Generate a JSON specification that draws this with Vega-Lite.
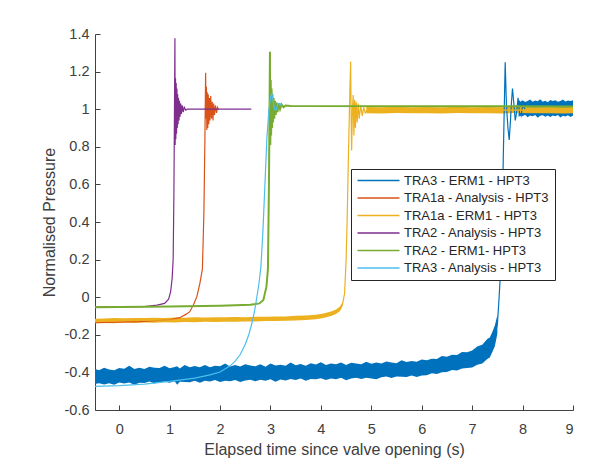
{
  "$schema": "https://vega.github.io/schema/vega-lite/v6.json",
  "width": 478,
  "height": 376,
  "autosize": {"type": "none"},
  "padding": {"left": 95, "top": 34, "right": 27, "bottom": 66},
  "background": "white",
  "datasets": {
    "bands": [
      {"s": "TRA3 - ERM1 - HPT3", "seg": "a", "t": -0.48, "lo": -0.462, "hi": -0.382},
      {"s": "TRA3 - ERM1 - HPT3", "seg": "a", "t": -0.4, "lo": -0.458, "hi": -0.388},
      {"s": "TRA3 - ERM1 - HPT3", "seg": "a", "t": -0.3, "lo": -0.464, "hi": -0.375},
      {"s": "TRA3 - ERM1 - HPT3", "seg": "a", "t": -0.2, "lo": -0.458, "hi": -0.384},
      {"s": "TRA3 - ERM1 - HPT3", "seg": "a", "t": -0.1, "lo": -0.466, "hi": -0.388},
      {"s": "TRA3 - ERM1 - HPT3", "seg": "a", "t": 0.0, "lo": -0.454, "hi": -0.376},
      {"s": "TRA3 - ERM1 - HPT3", "seg": "a", "t": 0.1, "lo": -0.459, "hi": -0.38},
      {"s": "TRA3 - ERM1 - HPT3", "seg": "a", "t": 0.2, "lo": -0.454, "hi": -0.364},
      {"s": "TRA3 - ERM1 - HPT3", "seg": "a", "t": 0.3, "lo": -0.466, "hi": -0.382},
      {"s": "TRA3 - ERM1 - HPT3", "seg": "a", "t": 0.4, "lo": -0.455, "hi": -0.375},
      {"s": "TRA3 - ERM1 - HPT3", "seg": "a", "t": 0.5, "lo": -0.457, "hi": -0.382},
      {"s": "TRA3 - ERM1 - HPT3", "seg": "a", "t": 0.6, "lo": -0.449, "hi": -0.37},
      {"s": "TRA3 - ERM1 - HPT3", "seg": "a", "t": 0.7, "lo": -0.459, "hi": -0.375},
      {"s": "TRA3 - ERM1 - HPT3", "seg": "a", "t": 0.8, "lo": -0.453, "hi": -0.377},
      {"s": "TRA3 - ERM1 - HPT3", "seg": "a", "t": 0.9, "lo": -0.45, "hi": -0.364},
      {"s": "TRA3 - ERM1 - HPT3", "seg": "a", "t": 1.0, "lo": -0.455, "hi": -0.378},
      {"s": "TRA3 - ERM1 - HPT3", "seg": "a", "t": 1.1, "lo": -0.447, "hi": -0.371},
      {"s": "TRA3 - ERM1 - HPT3", "seg": "a", "t": 1.15, "lo": -0.466, "hi": -0.367},
      {"s": "TRA3 - ERM1 - HPT3", "seg": "a", "t": 1.2, "lo": -0.45, "hi": -0.379},
      {"s": "TRA3 - ERM1 - HPT3", "seg": "a", "t": 1.3, "lo": -0.451, "hi": -0.36},
      {"s": "TRA3 - ERM1 - HPT3", "seg": "a", "t": 1.4, "lo": -0.453, "hi": -0.372},
      {"s": "TRA3 - ERM1 - HPT3", "seg": "a", "t": 1.5, "lo": -0.444, "hi": -0.366},
      {"s": "TRA3 - ERM1 - HPT3", "seg": "a", "t": 1.6, "lo": -0.455, "hi": -0.373},
      {"s": "TRA3 - ERM1 - HPT3", "seg": "a", "t": 1.7, "lo": -0.445, "hi": -0.361},
      {"s": "TRA3 - ERM1 - HPT3", "seg": "a", "t": 1.8, "lo": -0.448, "hi": -0.373},
      {"s": "TRA3 - ERM1 - HPT3", "seg": "a", "t": 1.9, "lo": -0.441, "hi": -0.365},
      {"s": "TRA3 - ERM1 - HPT3", "seg": "a", "t": 2.0, "lo": -0.451, "hi": -0.367},
      {"s": "TRA3 - ERM1 - HPT3", "seg": "a", "t": 2.1, "lo": -0.444, "hi": -0.353},
      {"s": "TRA3 - ERM1 - HPT3", "seg": "a", "t": 2.2, "lo": -0.447, "hi": -0.368},
      {"s": "TRA3 - ERM1 - HPT3", "seg": "a", "t": 2.3, "lo": -0.44, "hi": -0.361},
      {"s": "TRA3 - ERM1 - HPT3", "seg": "a", "t": 2.4, "lo": -0.451, "hi": -0.369},
      {"s": "TRA3 - ERM1 - HPT3", "seg": "a", "t": 2.5, "lo": -0.443, "hi": -0.356},
      {"s": "TRA3 - ERM1 - HPT3", "seg": "a", "t": 2.6, "lo": -0.439, "hi": -0.363},
      {"s": "TRA3 - ERM1 - HPT3", "seg": "a", "t": 2.7, "lo": -0.447, "hi": -0.367},
      {"s": "TRA3 - ERM1 - HPT3", "seg": "a", "t": 2.8, "lo": -0.439, "hi": -0.357},
      {"s": "TRA3 - ERM1 - HPT3", "seg": "a", "t": 2.9, "lo": -0.444, "hi": -0.37},
      {"s": "TRA3 - ERM1 - HPT3", "seg": "a", "t": 3.0, "lo": -0.436, "hi": -0.352},
      {"s": "TRA3 - ERM1 - HPT3", "seg": "a", "t": 3.1, "lo": -0.45, "hi": -0.363},
      {"s": "TRA3 - ERM1 - HPT3", "seg": "a", "t": 3.2, "lo": -0.438, "hi": -0.359},
      {"s": "TRA3 - ERM1 - HPT3", "seg": "a", "t": 3.3, "lo": -0.443, "hi": -0.365},
      {"s": "TRA3 - ERM1 - HPT3", "seg": "a", "t": 3.4, "lo": -0.435, "hi": -0.347},
      {"s": "TRA3 - ERM1 - HPT3", "seg": "a", "t": 3.5, "lo": -0.44, "hi": -0.362},
      {"s": "TRA3 - ERM1 - HPT3", "seg": "a", "t": 3.6, "lo": -0.432, "hi": -0.355},
      {"s": "TRA3 - ERM1 - HPT3", "seg": "a", "t": 3.7, "lo": -0.444, "hi": -0.364},
      {"s": "TRA3 - ERM1 - HPT3", "seg": "a", "t": 3.8, "lo": -0.435, "hi": -0.351},
      {"s": "TRA3 - ERM1 - HPT3", "seg": "a", "t": 3.9, "lo": -0.437, "hi": -0.358},
      {"s": "TRA3 - ERM1 - HPT3", "seg": "a", "t": 4.0, "lo": -0.431, "hi": -0.346},
      {"s": "TRA3 - ERM1 - HPT3", "seg": "a", "t": 4.1, "lo": -0.441, "hi": -0.36},
      {"s": "TRA3 - ERM1 - HPT3", "seg": "a", "t": 4.2, "lo": -0.432, "hi": -0.353},
      {"s": "TRA3 - ERM1 - HPT3", "seg": "a", "t": 4.3, "lo": -0.437, "hi": -0.357},
      {"s": "TRA3 - ERM1 - HPT3", "seg": "a", "t": 4.4, "lo": -0.428, "hi": -0.347},
      {"s": "TRA3 - ERM1 - HPT3", "seg": "a", "t": 4.5, "lo": -0.442, "hi": -0.361},
      {"s": "TRA3 - ERM1 - HPT3", "seg": "a", "t": 4.6, "lo": -0.432, "hi": -0.349},
      {"s": "TRA3 - ERM1 - HPT3", "seg": "a", "t": 4.7, "lo": -0.429, "hi": -0.353},
      {"s": "TRA3 - ERM1 - HPT3", "seg": "a", "t": 4.8, "lo": -0.435, "hi": -0.357},
      {"s": "TRA3 - ERM1 - HPT3", "seg": "a", "t": 4.9, "lo": -0.429, "hi": -0.343},
      {"s": "TRA3 - ERM1 - HPT3", "seg": "a", "t": 5.0, "lo": -0.432, "hi": -0.354},
      {"s": "TRA3 - ERM1 - HPT3", "seg": "a", "t": 5.1, "lo": -0.436, "hi": -0.347},
      {"s": "TRA3 - ERM1 - HPT3", "seg": "a", "t": 5.2, "lo": -0.426, "hi": -0.352},
      {"s": "TRA3 - ERM1 - HPT3", "seg": "a", "t": 5.3, "lo": -0.422, "hi": -0.342},
      {"s": "TRA3 - ERM1 - HPT3", "seg": "a", "t": 5.4, "lo": -0.43, "hi": -0.347},
      {"s": "TRA3 - ERM1 - HPT3", "seg": "a", "t": 5.5, "lo": -0.422, "hi": -0.351},
      {"s": "TRA3 - ERM1 - HPT3", "seg": "a", "t": 5.6, "lo": -0.423, "hi": -0.335},
      {"s": "TRA3 - ERM1 - HPT3", "seg": "a", "t": 5.7, "lo": -0.425, "hi": -0.345},
      {"s": "TRA3 - ERM1 - HPT3", "seg": "a", "t": 5.8, "lo": -0.416, "hi": -0.34},
      {"s": "TRA3 - ERM1 - HPT3", "seg": "a", "t": 5.9, "lo": -0.424, "hi": -0.344},
      {"s": "TRA3 - ERM1 - HPT3", "seg": "a", "t": 6.0, "lo": -0.416, "hi": -0.332},
      {"s": "TRA3 - ERM1 - HPT3", "seg": "a", "t": 6.1, "lo": -0.415, "hi": -0.336},
      {"s": "TRA3 - ERM1 - HPT3", "seg": "a", "t": 6.2, "lo": -0.405, "hi": -0.327},
      {"s": "TRA3 - ERM1 - HPT3", "seg": "a", "t": 6.3, "lo": -0.409, "hi": -0.329},
      {"s": "TRA3 - ERM1 - HPT3", "seg": "a", "t": 6.4, "lo": -0.399, "hi": -0.313},
      {"s": "TRA3 - ERM1 - HPT3", "seg": "a", "t": 6.5, "lo": -0.398, "hi": -0.317},
      {"s": "TRA3 - ERM1 - HPT3", "seg": "a", "t": 6.6, "lo": -0.387, "hi": -0.306},
      {"s": "TRA3 - ERM1 - HPT3", "seg": "a", "t": 6.7, "lo": -0.39, "hi": -0.308},
      {"s": "TRA3 - ERM1 - HPT3", "seg": "a", "t": 6.8, "lo": -0.379, "hi": -0.291},
      {"s": "TRA3 - ERM1 - HPT3", "seg": "a", "t": 6.9, "lo": -0.377, "hi": -0.293},
      {"s": "TRA3 - ERM1 - HPT3", "seg": "a", "t": 7.0, "lo": -0.374, "hi": -0.283},
      {"s": "TRA3 - ERM1 - HPT3", "seg": "a", "t": 7.1, "lo": -0.359, "hi": -0.262},
      {"s": "TRA3 - ERM1 - HPT3", "seg": "a", "t": 7.2, "lo": -0.353, "hi": -0.253},
      {"s": "TRA3 - ERM1 - HPT3", "seg": "a", "t": 7.3, "lo": -0.329, "hi": -0.222},
      {"s": "TRA3 - ERM1 - HPT3", "seg": "a", "t": 7.35, "lo": -0.321, "hi": -0.215},
      {"s": "TRA3 - ERM1 - HPT3", "seg": "a", "t": 7.4, "lo": -0.292, "hi": -0.185},
      {"s": "TRA3 - ERM1 - HPT3", "seg": "a", "t": 7.45, "lo": -0.261, "hi": -0.151},
      {"s": "TRA3 - ERM1 - HPT3", "seg": "a", "t": 7.5, "lo": -0.195, "hi": -0.095},
      {"s": "TRA3 - ERM1 - HPT3", "seg": "b", "t": 7.92, "lo": 0.958, "hi": 1.052},
      {"s": "TRA3 - ERM1 - HPT3", "seg": "b", "t": 7.96, "lo": 0.968, "hi": 1.04},
      {"s": "TRA3 - ERM1 - HPT3", "seg": "b", "t": 8.0, "lo": 0.962, "hi": 1.047},
      {"s": "TRA3 - ERM1 - HPT3", "seg": "b", "t": 8.05, "lo": 0.97, "hi": 1.038},
      {"s": "TRA3 - ERM1 - HPT3", "seg": "b", "t": 8.1, "lo": 0.957, "hi": 1.044},
      {"s": "TRA3 - ERM1 - HPT3", "seg": "b", "t": 8.15, "lo": 0.966, "hi": 1.051},
      {"s": "TRA3 - ERM1 - HPT3", "seg": "b", "t": 8.2, "lo": 0.963, "hi": 1.039},
      {"s": "TRA3 - ERM1 - HPT3", "seg": "b", "t": 8.25, "lo": 0.969, "hi": 1.046},
      {"s": "TRA3 - ERM1 - HPT3", "seg": "b", "t": 8.3, "lo": 0.955, "hi": 1.042},
      {"s": "TRA3 - ERM1 - HPT3", "seg": "b", "t": 8.35, "lo": 0.965, "hi": 1.053},
      {"s": "TRA3 - ERM1 - HPT3", "seg": "b", "t": 8.4, "lo": 0.968, "hi": 1.04},
      {"s": "TRA3 - ERM1 - HPT3", "seg": "b", "t": 8.45, "lo": 0.96, "hi": 1.045},
      {"s": "TRA3 - ERM1 - HPT3", "seg": "b", "t": 8.5, "lo": 0.966, "hi": 1.037},
      {"s": "TRA3 - ERM1 - HPT3", "seg": "b", "t": 8.55, "lo": 0.958, "hi": 1.049},
      {"s": "TRA3 - ERM1 - HPT3", "seg": "b", "t": 8.6, "lo": 0.967, "hi": 1.043},
      {"s": "TRA3 - ERM1 - HPT3", "seg": "b", "t": 8.65, "lo": 0.962, "hi": 1.047},
      {"s": "TRA3 - ERM1 - HPT3", "seg": "b", "t": 8.7, "lo": 0.969, "hi": 1.039},
      {"s": "TRA3 - ERM1 - HPT3", "seg": "b", "t": 8.75, "lo": 0.956, "hi": 1.044},
      {"s": "TRA3 - ERM1 - HPT3", "seg": "b", "t": 8.8, "lo": 0.965, "hi": 1.051},
      {"s": "TRA3 - ERM1 - HPT3", "seg": "b", "t": 8.85, "lo": 0.961, "hi": 1.041},
      {"s": "TRA3 - ERM1 - HPT3", "seg": "b", "t": 8.9, "lo": 0.968, "hi": 1.046},
      {"s": "TRA3 - ERM1 - HPT3", "seg": "b", "t": 8.95, "lo": 0.959, "hi": 1.043},
      {"s": "TRA3 - ERM1 - HPT3", "seg": "b", "t": 9.0, "lo": 0.966, "hi": 1.048},
      {"s": "TRA1a - ERM1 - HPT3", "seg": "c", "t": -0.48, "lo": -0.139, "hi": -0.114},
      {"s": "TRA1a - ERM1 - HPT3", "seg": "c", "t": -0.3, "lo": -0.137, "hi": -0.113},
      {"s": "TRA1a - ERM1 - HPT3", "seg": "c", "t": -0.1, "lo": -0.138, "hi": -0.111},
      {"s": "TRA1a - ERM1 - HPT3", "seg": "c", "t": 0.1, "lo": -0.135, "hi": -0.112},
      {"s": "TRA1a - ERM1 - HPT3", "seg": "c", "t": 0.3, "lo": -0.137, "hi": -0.11},
      {"s": "TRA1a - ERM1 - HPT3", "seg": "c", "t": 0.5, "lo": -0.134, "hi": -0.111},
      {"s": "TRA1a - ERM1 - HPT3", "seg": "c", "t": 0.7, "lo": -0.136, "hi": -0.109},
      {"s": "TRA1a - ERM1 - HPT3", "seg": "c", "t": 0.9, "lo": -0.133, "hi": -0.11},
      {"s": "TRA1a - ERM1 - HPT3", "seg": "c", "t": 1.1, "lo": -0.134, "hi": -0.108},
      {"s": "TRA1a - ERM1 - HPT3", "seg": "c", "t": 1.3, "lo": -0.132, "hi": -0.109},
      {"s": "TRA1a - ERM1 - HPT3", "seg": "c", "t": 1.5, "lo": -0.133, "hi": -0.107},
      {"s": "TRA1a - ERM1 - HPT3", "seg": "c", "t": 1.7, "lo": -0.131, "hi": -0.108},
      {"s": "TRA1a - ERM1 - HPT3", "seg": "c", "t": 1.9, "lo": -0.132, "hi": -0.106},
      {"s": "TRA1a - ERM1 - HPT3", "seg": "c", "t": 2.1, "lo": -0.13, "hi": -0.107},
      {"s": "TRA1a - ERM1 - HPT3", "seg": "c", "t": 2.3, "lo": -0.131, "hi": -0.105},
      {"s": "TRA1a - ERM1 - HPT3", "seg": "c", "t": 2.5, "lo": -0.129, "hi": -0.106},
      {"s": "TRA1a - ERM1 - HPT3", "seg": "c", "t": 2.7, "lo": -0.129, "hi": -0.104},
      {"s": "TRA1a - ERM1 - HPT3", "seg": "c", "t": 2.9, "lo": -0.127, "hi": -0.104},
      {"s": "TRA1a - ERM1 - HPT3", "seg": "c", "t": 3.1, "lo": -0.127, "hi": -0.102},
      {"s": "TRA1a - ERM1 - HPT3", "seg": "c", "t": 3.3, "lo": -0.125, "hi": -0.102},
      {"s": "TRA1a - ERM1 - HPT3", "seg": "c", "t": 3.5, "lo": -0.124, "hi": -0.099},
      {"s": "TRA1a - ERM1 - HPT3", "seg": "c", "t": 3.7, "lo": -0.121, "hi": -0.097},
      {"s": "TRA1a - ERM1 - HPT3", "seg": "c", "t": 3.9, "lo": -0.117, "hi": -0.093},
      {"s": "TRA1a - ERM1 - HPT3", "seg": "c", "t": 4.05, "lo": -0.111, "hi": -0.087},
      {"s": "TRA1a - ERM1 - HPT3", "seg": "c", "t": 4.2, "lo": -0.1, "hi": -0.076},
      {"s": "TRA1a - ERM1 - HPT3", "seg": "c", "t": 4.3, "lo": -0.09, "hi": -0.066},
      {"s": "TRA1a - ERM1 - HPT3", "seg": "c", "t": 4.38, "lo": -0.073, "hi": -0.049},
      {"s": "TRA1a - ERM1 - HPT3", "seg": "c", "t": 4.43, "lo": -0.048, "hi": -0.024},
      {"s": "TRA1a - ERM1 - HPT3", "seg": "d", "t": 4.9, "lo": 0.979, "hi": 1.012},
      {"s": "TRA1a - ERM1 - HPT3", "seg": "d", "t": 5.2, "lo": 0.977, "hi": 1.01},
      {"s": "TRA1a - ERM1 - HPT3", "seg": "d", "t": 5.5, "lo": 0.98, "hi": 1.013},
      {"s": "TRA1a - ERM1 - HPT3", "seg": "d", "t": 5.8, "lo": 0.978, "hi": 1.01},
      {"s": "TRA1a - ERM1 - HPT3", "seg": "d", "t": 6.1, "lo": 0.979, "hi": 1.012},
      {"s": "TRA1a - ERM1 - HPT3", "seg": "d", "t": 6.4, "lo": 0.977, "hi": 1.011},
      {"s": "TRA1a - ERM1 - HPT3", "seg": "d", "t": 6.7, "lo": 0.98, "hi": 1.013},
      {"s": "TRA1a - ERM1 - HPT3", "seg": "d", "t": 7.0, "lo": 0.978, "hi": 1.01},
      {"s": "TRA1a - ERM1 - HPT3", "seg": "d", "t": 7.3, "lo": 0.979, "hi": 1.012},
      {"s": "TRA1a - ERM1 - HPT3", "seg": "d", "t": 7.6, "lo": 0.977, "hi": 1.011},
      {"s": "TRA1a - ERM1 - HPT3", "seg": "d", "t": 7.9, "lo": 0.98, "hi": 1.013},
      {"s": "TRA1a - ERM1 - HPT3", "seg": "d", "t": 8.2, "lo": 0.978, "hi": 1.01},
      {"s": "TRA1a - ERM1 - HPT3", "seg": "d", "t": 8.5, "lo": 0.979, "hi": 1.012},
      {"s": "TRA1a - ERM1 - HPT3", "seg": "d", "t": 8.8, "lo": 0.977, "hi": 1.011},
      {"s": "TRA1a - ERM1 - HPT3", "seg": "d", "t": 9.0, "lo": 0.979, "hi": 1.012}
    ],
    "lines": [
      {"s": "TRA3 - ERM1 - HPT3", "t": -0.48, "p": -0.422},
      {"s": "TRA3 - ERM1 - HPT3", "t": 2.0, "p": -0.408},
      {"s": "TRA3 - ERM1 - HPT3", "t": 4.0, "p": -0.394},
      {"s": "TRA3 - ERM1 - HPT3", "t": 5.0, "p": -0.39},
      {"s": "TRA3 - ERM1 - HPT3", "t": 6.0, "p": -0.377},
      {"s": "TRA3 - ERM1 - HPT3", "t": 6.5, "p": -0.355},
      {"s": "TRA3 - ERM1 - HPT3", "t": 7.0, "p": -0.327},
      {"s": "TRA3 - ERM1 - HPT3", "t": 7.2, "p": -0.3},
      {"s": "TRA3 - ERM1 - HPT3", "t": 7.35, "p": -0.265},
      {"s": "TRA3 - ERM1 - HPT3", "t": 7.45, "p": -0.206},
      {"s": "TRA3 - ERM1 - HPT3", "t": 7.5, "p": -0.145},
      {"s": "TRA3 - ERM1 - HPT3", "t": 7.53, "p": -0.02},
      {"s": "TRA3 - ERM1 - HPT3", "t": 7.56, "p": 0.12},
      {"s": "TRA3 - ERM1 - HPT3", "t": 7.59, "p": 0.35},
      {"s": "TRA3 - ERM1 - HPT3", "t": 7.62, "p": 0.78},
      {"s": "TRA3 - ERM1 - HPT3", "t": 7.655, "p": 1.25},
      {"s": "TRA3 - ERM1 - HPT3", "t": 7.68, "p": 1.02},
      {"s": "TRA3 - ERM1 - HPT3", "t": 7.71, "p": 0.9},
      {"s": "TRA3 - ERM1 - HPT3", "t": 7.735, "p": 0.836},
      {"s": "TRA3 - ERM1 - HPT3", "t": 7.76, "p": 0.94},
      {"s": "TRA3 - ERM1 - HPT3", "t": 7.78, "p": 1.04},
      {"s": "TRA3 - ERM1 - HPT3", "t": 7.8, "p": 1.11},
      {"s": "TRA3 - ERM1 - HPT3", "t": 7.83, "p": 1.02},
      {"s": "TRA3 - ERM1 - HPT3", "t": 7.855, "p": 0.94},
      {"s": "TRA3 - ERM1 - HPT3", "t": 7.88, "p": 0.98},
      {"s": "TRA3 - ERM1 - HPT3", "t": 7.91, "p": 1.06},
      {"s": "TRA3 - ERM1 - HPT3", "t": 7.94, "p": 0.98},
      {"s": "TRA3 - ERM1 - HPT3", "t": 7.97, "p": 0.965},
      {"s": "TRA3 - ERM1 - HPT3", "t": 8.0, "p": 1.02},
      {"s": "TRA3 - ERM1 - HPT3", "t": 8.05, "p": 1.0},

      {"s": "TRA1a - Analysis - HPT3", "t": -0.48, "p": -0.136},
      {"s": "TRA1a - Analysis - HPT3", "t": 0.4, "p": -0.13},
      {"s": "TRA1a - Analysis - HPT3", "t": 1.0, "p": -0.12},
      {"s": "TRA1a - Analysis - HPT3", "t": 1.2, "p": -0.109},
      {"s": "TRA1a - Analysis - HPT3", "t": 1.33, "p": -0.09},
      {"s": "TRA1a - Analysis - HPT3", "t": 1.4, "p": -0.077},
      {"s": "TRA1a - Analysis - HPT3", "t": 1.47, "p": -0.042},
      {"s": "TRA1a - Analysis - HPT3", "t": 1.54, "p": 0.003},
      {"s": "TRA1a - Analysis - HPT3", "t": 1.6, "p": 0.074},
      {"s": "TRA1a - Analysis - HPT3", "t": 1.65, "p": 0.15},
      {"s": "TRA1a - Analysis - HPT3", "t": 1.68, "p": 0.45},
      {"s": "TRA1a - Analysis - HPT3", "t": 1.7, "p": 0.85},
      {"s": "TRA1a - Analysis - HPT3", "t": 1.714, "p": 1.194},
      {"s": "TRA1a - Analysis - HPT3", "t": 1.722, "p": 0.95},
      {"s": "TRA1a - Analysis - HPT3", "t": 1.73, "p": 1.12},
      {"s": "TRA1a - Analysis - HPT3", "t": 1.738, "p": 0.89},
      {"s": "TRA1a - Analysis - HPT3", "t": 1.746, "p": 1.09},
      {"s": "TRA1a - Analysis - HPT3", "t": 1.756, "p": 0.9},
      {"s": "TRA1a - Analysis - HPT3", "t": 1.766, "p": 1.08},
      {"s": "TRA1a - Analysis - HPT3", "t": 1.777, "p": 0.92},
      {"s": "TRA1a - Analysis - HPT3", "t": 1.79, "p": 1.06},
      {"s": "TRA1a - Analysis - HPT3", "t": 1.8, "p": 0.94},
      {"s": "TRA1a - Analysis - HPT3", "t": 1.815, "p": 1.07},
      {"s": "TRA1a - Analysis - HPT3", "t": 1.83, "p": 0.95},
      {"s": "TRA1a - Analysis - HPT3", "t": 1.845, "p": 1.04},
      {"s": "TRA1a - Analysis - HPT3", "t": 1.86, "p": 0.94},
      {"s": "TRA1a - Analysis - HPT3", "t": 1.875, "p": 1.03},
      {"s": "TRA1a - Analysis - HPT3", "t": 1.89, "p": 0.97},
      {"s": "TRA1a - Analysis - HPT3", "t": 1.91, "p": 1.02},
      {"s": "TRA1a - Analysis - HPT3", "t": 1.93, "p": 0.98},
      {"s": "TRA1a - Analysis - HPT3", "t": 1.95, "p": 1.01},
      {"s": "TRA1a - Analysis - HPT3", "t": 1.97, "p": 1.0},

      {"s": "TRA1a - ERM1 - HPT3", "t": -0.48, "p": -0.126},
      {"s": "TRA1a - ERM1 - HPT3", "t": 1.5, "p": -0.12},
      {"s": "TRA1a - ERM1 - HPT3", "t": 3.0, "p": -0.115},
      {"s": "TRA1a - ERM1 - HPT3", "t": 3.6, "p": -0.11},
      {"s": "TRA1a - ERM1 - HPT3", "t": 4.0, "p": -0.1},
      {"s": "TRA1a - ERM1 - HPT3", "t": 4.25, "p": -0.085},
      {"s": "TRA1a - ERM1 - HPT3", "t": 4.38, "p": -0.061},
      {"s": "TRA1a - ERM1 - HPT3", "t": 4.43, "p": -0.036},
      {"s": "TRA1a - ERM1 - HPT3", "t": 4.47, "p": 0.02},
      {"s": "TRA1a - ERM1 - HPT3", "t": 4.5, "p": 0.2},
      {"s": "TRA1a - ERM1 - HPT3", "t": 4.52, "p": 0.4},
      {"s": "TRA1a - ERM1 - HPT3", "t": 4.55, "p": 0.8},
      {"s": "TRA1a - ERM1 - HPT3", "t": 4.575, "p": 1.1},
      {"s": "TRA1a - ERM1 - HPT3", "t": 4.59, "p": 1.253},
      {"s": "TRA1a - ERM1 - HPT3", "t": 4.6, "p": 0.95},
      {"s": "TRA1a - ERM1 - HPT3", "t": 4.61, "p": 0.78},
      {"s": "TRA1a - ERM1 - HPT3", "t": 4.625, "p": 1.0},
      {"s": "TRA1a - ERM1 - HPT3", "t": 4.64, "p": 1.076},
      {"s": "TRA1a - ERM1 - HPT3", "t": 4.655, "p": 0.86},
      {"s": "TRA1a - ERM1 - HPT3", "t": 4.67, "p": 1.05},
      {"s": "TRA1a - ERM1 - HPT3", "t": 4.685, "p": 0.9},
      {"s": "TRA1a - ERM1 - HPT3", "t": 4.7, "p": 1.04},
      {"s": "TRA1a - ERM1 - HPT3", "t": 4.72, "p": 0.93},
      {"s": "TRA1a - ERM1 - HPT3", "t": 4.74, "p": 1.03},
      {"s": "TRA1a - ERM1 - HPT3", "t": 4.76, "p": 0.95},
      {"s": "TRA1a - ERM1 - HPT3", "t": 4.79, "p": 1.02},
      {"s": "TRA1a - ERM1 - HPT3", "t": 4.82, "p": 0.965},
      {"s": "TRA1a - ERM1 - HPT3", "t": 4.85, "p": 1.01},
      {"s": "TRA1a - ERM1 - HPT3", "t": 4.88, "p": 0.98},
      {"s": "TRA1a - ERM1 - HPT3", "t": 4.92, "p": 0.995},
      {"s": "TRA1a - ERM1 - HPT3", "t": 9.0, "p": 0.995},

      {"s": "TRA2 - Analysis - HPT3", "t": -0.48, "p": -0.052},
      {"s": "TRA2 - Analysis - HPT3", "t": 0.5, "p": -0.05},
      {"s": "TRA2 - Analysis - HPT3", "t": 0.75, "p": -0.042},
      {"s": "TRA2 - Analysis - HPT3", "t": 0.9, "p": -0.033},
      {"s": "TRA2 - Analysis - HPT3", "t": 0.98, "p": -0.01},
      {"s": "TRA2 - Analysis - HPT3", "t": 1.02, "p": 0.03},
      {"s": "TRA2 - Analysis - HPT3", "t": 1.05, "p": 0.1},
      {"s": "TRA2 - Analysis - HPT3", "t": 1.07, "p": 0.2},
      {"s": "TRA2 - Analysis - HPT3", "t": 1.085, "p": 0.55},
      {"s": "TRA2 - Analysis - HPT3", "t": 1.095, "p": 0.95},
      {"s": "TRA2 - Analysis - HPT3", "t": 1.105, "p": 1.377},
      {"s": "TRA2 - Analysis - HPT3", "t": 1.11, "p": 0.81},
      {"s": "TRA2 - Analysis - HPT3", "t": 1.117, "p": 1.165},
      {"s": "TRA2 - Analysis - HPT3", "t": 1.123, "p": 0.84},
      {"s": "TRA2 - Analysis - HPT3", "t": 1.13, "p": 1.14},
      {"s": "TRA2 - Analysis - HPT3", "t": 1.137, "p": 0.87},
      {"s": "TRA2 - Analysis - HPT3", "t": 1.145, "p": 1.11},
      {"s": "TRA2 - Analysis - HPT3", "t": 1.152, "p": 0.9},
      {"s": "TRA2 - Analysis - HPT3", "t": 1.16, "p": 1.08},
      {"s": "TRA2 - Analysis - HPT3", "t": 1.168, "p": 0.92},
      {"s": "TRA2 - Analysis - HPT3", "t": 1.177, "p": 1.06},
      {"s": "TRA2 - Analysis - HPT3", "t": 1.186, "p": 0.94},
      {"s": "TRA2 - Analysis - HPT3", "t": 1.196, "p": 1.045},
      {"s": "TRA2 - Analysis - HPT3", "t": 1.207, "p": 0.96},
      {"s": "TRA2 - Analysis - HPT3", "t": 1.22, "p": 1.03},
      {"s": "TRA2 - Analysis - HPT3", "t": 1.235, "p": 0.975},
      {"s": "TRA2 - Analysis - HPT3", "t": 1.25, "p": 1.02},
      {"s": "TRA2 - Analysis - HPT3", "t": 1.27, "p": 0.985},
      {"s": "TRA2 - Analysis - HPT3", "t": 1.29, "p": 1.01},
      {"s": "TRA2 - Analysis - HPT3", "t": 1.32, "p": 0.995},
      {"s": "TRA2 - Analysis - HPT3", "t": 1.35, "p": 1.0},
      {"s": "TRA2 - Analysis - HPT3", "t": 2.62, "p": 1.0},

      {"s": "TRA2 - ERM1- HPT3", "t": -0.48, "p": -0.053},
      {"s": "TRA2 - ERM1- HPT3", "t": 1.0, "p": -0.05},
      {"s": "TRA2 - ERM1- HPT3", "t": 2.0, "p": -0.045},
      {"s": "TRA2 - ERM1- HPT3", "t": 2.6, "p": -0.04},
      {"s": "TRA2 - ERM1- HPT3", "t": 2.78, "p": -0.033},
      {"s": "TRA2 - ERM1- HPT3", "t": 2.86, "p": -0.015},
      {"s": "TRA2 - ERM1- HPT3", "t": 2.92, "p": 0.056},
      {"s": "TRA2 - ERM1- HPT3", "t": 2.95, "p": 0.15},
      {"s": "TRA2 - ERM1- HPT3", "t": 2.97, "p": 0.6},
      {"s": "TRA2 - ERM1- HPT3", "t": 2.99, "p": 1.306},
      {"s": "TRA2 - ERM1- HPT3", "t": 2.997, "p": 0.81},
      {"s": "TRA2 - ERM1- HPT3", "t": 3.005, "p": 1.155},
      {"s": "TRA2 - ERM1- HPT3", "t": 3.013, "p": 0.86},
      {"s": "TRA2 - ERM1- HPT3", "t": 3.022, "p": 1.11},
      {"s": "TRA2 - ERM1- HPT3", "t": 3.031, "p": 0.9},
      {"s": "TRA2 - ERM1- HPT3", "t": 3.04, "p": 1.08},
      {"s": "TRA2 - ERM1- HPT3", "t": 3.05, "p": 0.93},
      {"s": "TRA2 - ERM1- HPT3", "t": 3.062, "p": 1.06},
      {"s": "TRA2 - ERM1- HPT3", "t": 3.075, "p": 0.95},
      {"s": "TRA2 - ERM1- HPT3", "t": 3.09, "p": 1.045},
      {"s": "TRA2 - ERM1- HPT3", "t": 3.105, "p": 0.97},
      {"s": "TRA2 - ERM1- HPT3", "t": 3.12, "p": 1.035},
      {"s": "TRA2 - ERM1- HPT3", "t": 3.14, "p": 0.985},
      {"s": "TRA2 - ERM1- HPT3", "t": 3.16, "p": 1.03},
      {"s": "TRA2 - ERM1- HPT3", "t": 3.19, "p": 1.0},
      {"s": "TRA2 - ERM1- HPT3", "t": 3.22, "p": 1.025},
      {"s": "TRA2 - ERM1- HPT3", "t": 3.26, "p": 1.01},
      {"s": "TRA2 - ERM1- HPT3", "t": 3.3, "p": 1.02},
      {"s": "TRA2 - ERM1- HPT3", "t": 3.4, "p": 1.017},
      {"s": "TRA2 - ERM1- HPT3", "t": 9.0, "p": 1.015},

      {"s": "TRA3 - Analysis - HPT3", "t": -0.48, "p": -0.474},
      {"s": "TRA3 - Analysis - HPT3", "t": 0.0, "p": -0.47},
      {"s": "TRA3 - Analysis - HPT3", "t": 0.5, "p": -0.462},
      {"s": "TRA3 - Analysis - HPT3", "t": 1.0, "p": -0.448},
      {"s": "TRA3 - Analysis - HPT3", "t": 1.5, "p": -0.43},
      {"s": "TRA3 - Analysis - HPT3", "t": 1.8, "p": -0.413},
      {"s": "TRA3 - Analysis - HPT3", "t": 2.0, "p": -0.398},
      {"s": "TRA3 - Analysis - HPT3", "t": 2.2, "p": -0.365},
      {"s": "TRA3 - Analysis - HPT3", "t": 2.3, "p": -0.34},
      {"s": "TRA3 - Analysis - HPT3", "t": 2.4, "p": -0.305},
      {"s": "TRA3 - Analysis - HPT3", "t": 2.5, "p": -0.25},
      {"s": "TRA3 - Analysis - HPT3", "t": 2.57, "p": -0.2},
      {"s": "TRA3 - Analysis - HPT3", "t": 2.63, "p": -0.14},
      {"s": "TRA3 - Analysis - HPT3", "t": 2.68, "p": -0.08},
      {"s": "TRA3 - Analysis - HPT3", "t": 2.73, "p": 0.0},
      {"s": "TRA3 - Analysis - HPT3", "t": 2.77, "p": 0.07},
      {"s": "TRA3 - Analysis - HPT3", "t": 2.81, "p": 0.16},
      {"s": "TRA3 - Analysis - HPT3", "t": 2.85, "p": 0.35},
      {"s": "TRA3 - Analysis - HPT3", "t": 2.89, "p": 0.6},
      {"s": "TRA3 - Analysis - HPT3", "t": 2.93, "p": 0.85},
      {"s": "TRA3 - Analysis - HPT3", "t": 2.97, "p": 1.0},
      {"s": "TRA3 - Analysis - HPT3", "t": 3.0, "p": 1.06},
      {"s": "TRA3 - Analysis - HPT3", "t": 3.025, "p": 1.085},
      {"s": "TRA3 - Analysis - HPT3", "t": 3.05, "p": 1.05},
      {"s": "TRA3 - Analysis - HPT3", "t": 3.08, "p": 1.0},
      {"s": "TRA3 - Analysis - HPT3", "t": 3.11, "p": 0.995},
      {"s": "TRA3 - Analysis - HPT3", "t": 3.15, "p": 1.03},
      {"s": "TRA3 - Analysis - HPT3", "t": 3.19, "p": 1.03},
      {"s": "TRA3 - Analysis - HPT3", "t": 3.22, "p": 1.018}
    ]
  },
  "layer": [
    {
      "data": {"name": "bands"},
      "mark": {"type": "area", "opacity": 1},
      "encoding": {
        "x": {
          "field": "t", "type": "quantitative",
          "scale": {"domain": [-0.48, 9], "nice": false, "zero": false},
          "axis": {"title": "Elapsed time since valve opening (s)", "values": [0, 1, 2, 3, 4, 5, 6, 7, 8, 9], "tickSize": -5, "labelPadding": 17, "titlePadding": 6, "labelOverlap": false}
        },
        "y": {
          "field": "lo", "type": "quantitative",
          "scale": {"domain": [-0.6, 1.4], "nice": false, "zero": false},
          "axis": {"title": "Normalised Pressure", "values": [-0.6, -0.4, -0.2, 0, 0.2, 0.4, 0.6, 0.8, 1, 1.2, 1.4], "labelExpr": "'' + datum.value", "tickSize": -5, "labelPadding": 11, "titlePadding": 7, "labelOverlap": false}
        },
        "y2": {"field": "hi"},
        "detail": {"field": "seg", "type": "nominal"},
        "fill": {
          "condition": {"test": "datum.s === 'TRA1a - ERM1 - HPT3'", "value": "#EDB120"},
          "value": "#0072BD"
        }
      }
    },
    {
      "data": {"name": "lines"},
      "mark": {"type": "line", "clip": true},
      "encoding": {
        "x": {
          "field": "t", "type": "quantitative",
          "scale": {"domain": [-0.48, 9], "nice": false, "zero": false},
          "axis": {"title": "Elapsed time since valve opening (s)", "values": [0, 1, 2, 3, 4, 5, 6, 7, 8, 9], "tickSize": -5, "labelPadding": 17, "titlePadding": 6, "labelOverlap": false}
        },
        "y": {
          "field": "p", "type": "quantitative",
          "scale": {"domain": [-0.6, 1.4], "nice": false, "zero": false},
          "axis": {"title": "Normalised Pressure", "values": [-0.6, -0.4, -0.2, 0, 0.2, 0.4, 0.6, 0.8, 1, 1.2, 1.4], "labelExpr": "'' + datum.value", "tickSize": -5, "labelPadding": 11, "titlePadding": 7, "labelOverlap": false}
        },
        "color": {
          "field": "s", "type": "nominal",
          "scale": {
            "domain": ["TRA3 - ERM1 - HPT3", "TRA1a - Analysis - HPT3", "TRA1a - ERM1 - HPT3", "TRA2 - Analysis - HPT3", "TRA2 - ERM1- HPT3", "TRA3 - Analysis - HPT3"],
            "range": ["#0072BD", "#D95319", "#EDB120", "#7E2F8E", "#77AC30", "#4DBEEE"]
          },
          "legend": {
            "title": null, "orient": "none", "legendX": 256, "legendY": 135,
            "fillColor": "white", "strokeColor": "#262626", "padding": 5,
            "symbolType": "M-4.2,0H4.2", "symbolSize": 100, "symbolStrokeWidth": 1.5, "symbolOffset": 16,
            "labelFontSize": 13, "labelColor": "#262626", "labelFont": "Liberation Sans",
            "labelOffset": 19, "rowPadding": 3.5
          }
        },
        "strokeWidth": {
          "condition": {"test": "datum.s === 'TRA2 - ERM1- HPT3'", "value": 2},
          "value": 1.2
        }
      }
    }
  ],
  "config": {
    "view": {"stroke": null},
    "font": "Liberation Sans",
    "axis": {
      "grid": false,
      "domainColor": "#404040", "tickColor": "#404040",
      "labelColor": "#404040", "titleColor": "#404040",
      "labelFont": "Liberation Sans", "titleFont": "Liberation Sans",
      "labelFontSize": 14.5, "titleFontSize": 16, "titleFontWeight": "normal",
      "domainWidth": 1, "tickWidth": 1
    }
  }
}
